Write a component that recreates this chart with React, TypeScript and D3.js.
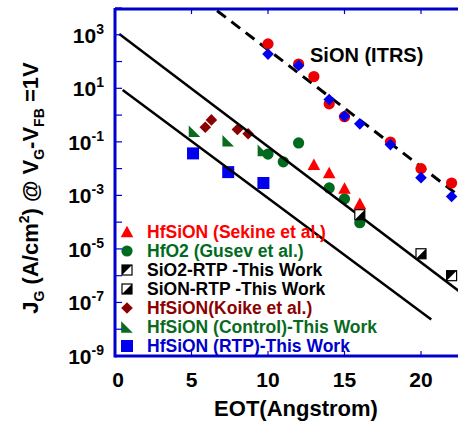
import React from 'react';
import * as d3 from 'd3';

// ITRS SiON reference (red circles / blue diamonds)
const itrsCircleEot = [10, 12, 13, 14, 15, 18, 20, 22];
const itrsCircleJ = [457, 81, 27.5, 2.63, 0.87, 0.098, 0.01, 0.0029];
const itrsDiamondEot = [10, 12, 14, 15, 16, 18, 20, 22];
const itrsDiamondJ = [190, 71, 3.8, 0.91, 0.47, 0.079, 0.0046, 0.00091];

const sekineEot = [13, 14, 15, 16];
const sekineJ = [0.014, 0.0069, 0.0018, 0.00049];
const gusevEot = [10, 11, 12, 14, 15, 16];
const gusevJ = [0.035, 0.018, 0.091, 0.0019, 0.00074, 0.000095];
const sio2Eot = [22];
const sio2J = [1.0e-6];
const sionEot = [16, 20];
const sionJ = [1.9e-4, 6.6e-6];
const koikeEot = [5.9, 6.3, 8.0, 8.7];
const koikeJ = [0.35, 0.66, 0.29, 0.2];
const controlEot = [5.2, 7.4, 9.7];
const controlJ = [0.25, 0.11, 0.048];
const rtpEot = [5.1, 7.4, 9.7];
const rtpJ = [0.037, 0.0074, 0.0029];

// trend lines [eot, J]
const itrsLine = [[6.67, 7900], [22.5, 9.5e-4]];
const upperLine = [[0.28, 1070], [22.5, 2.6e-7]];
const lowerLine = [[0.5, 8.7], [20.67, 2.3e-8]];

const xTicks = [0, 5, 10, 15, 20];
const yLabelExps = [3, 1, -1, -3, -5, -7, -9];
const yTickExps = d3.range(-9, 5);

const legendItems = [
  { label: 'HfSiON (Sekine et al.)', color: '#ff0000', shape: 'triangle' },
  { label: 'HfO2 (Gusev et al.)', color: '#006b1e', shape: 'circle' },
  { label: 'SiO2-RTP -This Work', color: '#000000', shape: 'sqUL' },
  { label: 'SiON-RTP -This Work', color: '#000000', shape: 'sqLR' },
  { label: 'HfSiON(Koike et al.)', color: '#8b0000', shape: 'diamond' },
  { label: 'HfSiON (Control)-This Work', color: '#0a6b1e', shape: 'rtri' },
  { label: 'HfSiON (RTP)-This Work', color: '#0000ee', shape: 'square' },
];

const W = 458;
const H = 424;
const left = 115;
const top = 8;
const bottom = 356;

const x = d3.scaleLinear().domain([0, 22.5]).range([left, left + 22.5 * 15.3]);
const y = d3.scaleLog().domain([1e-9, 1e4]).range([bottom, top]);
const line = d3.line<number[]>().x(d => x(d[0])).y(d => y(d[1]));

const FONT = 'Liberation Sans, Arial, sans-serif';
const AXIS = '#0000cc';

function Marker({ shape, cx, cy, color }: { shape: string; cx: number; cy: number; color: string }) {
  const s = 5.8;
  switch (shape) {
    case 'circle':
      return <circle cx={cx} cy={cy} r={5.6} fill={color} />;
    case 'triangle':
      return <path d={`M${cx},${cy - s - 0.5}L${cx + s + 0.5},${cy + s - 0.5}L${cx - s - 0.5},${cy + s - 0.5}Z`} fill={color} />;
    case 'diamond':
      return <path d={`M${cx},${cy - s}L${cx + s},${cy}L${cx},${cy + s}L${cx - s},${cy}Z`} fill={color} />;
    case 'square':
      return <rect x={cx - 6} y={cy - 6} width={12} height={12} fill={color} />;
    case 'rtri':
      return <path d={`M${cx - s},${cy - s}L${cx + s},${cy + s}L${cx - s},${cy + s}Z`} fill={color} />;
    case 'sqUL':
      return (
        <g>
          <rect x={cx - 5} y={cy - 5} width={10} height={10} fill="#fff" stroke="#000" strokeWidth={1.2} />
          <path d={`M${cx - 5},${cy - 5}L${cx + 5},${cy - 5}L${cx - 5},${cy + 5}Z`} fill="#000" />
        </g>
      );
    case 'sqLR':
      return (
        <g>
          <rect x={cx - 5} y={cy - 5} width={10} height={10} fill="#fff" stroke="#000" strokeWidth={1.2} />
          <path d={`M${cx + 5},${cy - 5}L${cx + 5},${cy + 5}L${cx - 5},${cy + 5}Z`} fill="#000" />
        </g>
      );
    default:
      return null;
  }
}

function Series({ xs, ys, shape, color }: { xs: number[]; ys: number[]; shape: string; color: string }) {
  return (
    <g>
      {xs.map((v, i) => (
        <Marker key={i} shape={shape} cx={x(v)} cy={y(ys[i])} color={color} />
      ))}
    </g>
  );
}

export default function App() {
  return (
    <svg width={W} height={H} style={{ position: 'absolute', left: 0, top: 0, background: '#fff' }} fontFamily={FONT}>
      <defs>
        <clipPath id="plot">
          <rect x={left} y={top} width={W - left} height={bottom - top} />
        </clipPath>
      </defs>

      <g clipPath="url(#plot)">
        <path d={line(itrsLine) || ''} stroke="#000" strokeWidth={3} strokeDasharray="11,7" fill="none" />
        <Series xs={itrsCircleEot} ys={itrsCircleJ} shape="circle" color="#ee0000" />
        <Series xs={itrsDiamondEot} ys={itrsDiamondJ} shape="diamond" color="#0000ee" />
        <Series xs={koikeEot} ys={koikeJ} shape="diamond" color="#8b0000" />
        <Series xs={controlEot} ys={controlJ} shape="rtri" color="#0a6b1e" />
        <Series xs={gusevEot} ys={gusevJ} shape="circle" color="#006b1e" />
        <Series xs={sekineEot} ys={sekineJ} shape="triangle" color="#ff0000" />
        <Series xs={rtpEot} ys={rtpJ} shape="square" color="#0000ee" />
        <path d={line(upperLine) || ''} stroke="#000" strokeWidth={2.5} fill="none" />
        <path d={line(lowerLine) || ''} stroke="#000" strokeWidth={2.5} fill="none" />
        <Series xs={sio2Eot} ys={sio2J} shape="sqUL" color="#000" />
        <Series xs={sionEot} ys={sionJ} shape="sqLR" color="#000" />
      </g>

      <text x={310} y={62} fontSize={20} fontWeight="bold" fill="#000">SiON (ITRS)</text>

      {/* legend */}
      {legendItems.map((d, i) => {
        const cy = 232 + i * 19;
        return (
          <g key={d.label}>
            <Marker shape={d.shape} cx={127} cy={cy} color={d.color} />
            <text x={147} y={cy + 6} fontSize={17.5} fontWeight="bold" fill={d.shape === 'square' ? '#0000cc' : d.color}>
              {d.label}
            </text>
          </g>
        );
      })}

      {/* axes frame */}
      <line x1={left} x2={W} y1={top + 1} y2={top + 1} stroke={AXIS} strokeWidth={3} />
      <line x1={left} x2={W} y1={bottom} y2={bottom} stroke={AXIS} strokeWidth={3} />
      <line x1={left} x2={left} y1={top} y2={bottom + 1.5} stroke={AXIS} strokeWidth={3} />
      {yTickExps.map(e => (
        <line key={e} x1={left} x2={left + 7} y1={y(Math.pow(10, e))} y2={y(Math.pow(10, e))} stroke={AXIS} strokeWidth={1.2} />
      ))}
      {xTicks.slice(1).map(t => (
        <g key={t}>
          <line x1={x(t)} x2={x(t)} y1={bottom} y2={bottom - 5} stroke={AXIS} strokeWidth={1.2} />
          <line x1={x(t)} x2={x(t)} y1={top} y2={top + 6} stroke={AXIS} strokeWidth={1.2} />
        </g>
      ))}

      {xTicks.map(t => (
        <text key={t} x={x(t) + (t === 0 ? 3 : 0)} y={387} textAnchor="middle" fontSize={21} fontWeight="bold">
          {t}
        </text>
      ))}
      {yLabelExps.map(e => (
        <text key={e} x={104} y={y(Math.pow(10, e)) + 8} textAnchor="end" fontSize={21} fontWeight="bold">
          10<tspan fontSize={14} dy={-9}>{e}</tspan>
        </text>
      ))}

      <text x={296} y={416} textAnchor="middle" fontSize={22} fontWeight="bold">EOT(Angstrom)</text>

      <text transform="translate(38,188) rotate(-90)" textAnchor="middle" fontSize={22} fontWeight="bold">
        J<tspan fontSize={14} dy={6}>G</tspan>
        <tspan dy={-6}> (A/cm</tspan>
        <tspan fontSize={14} dy={-9}>2</tspan>
        <tspan dy={9}>) @ V</tspan>
        <tspan fontSize={14} dy={6}>G</tspan>
        <tspan dy={-6}>-V</tspan>
        <tspan fontSize={14} dy={6}>FB</tspan>
        <tspan dy={-6}> =1V</tspan>
      </text>
    </svg>
  );
}
